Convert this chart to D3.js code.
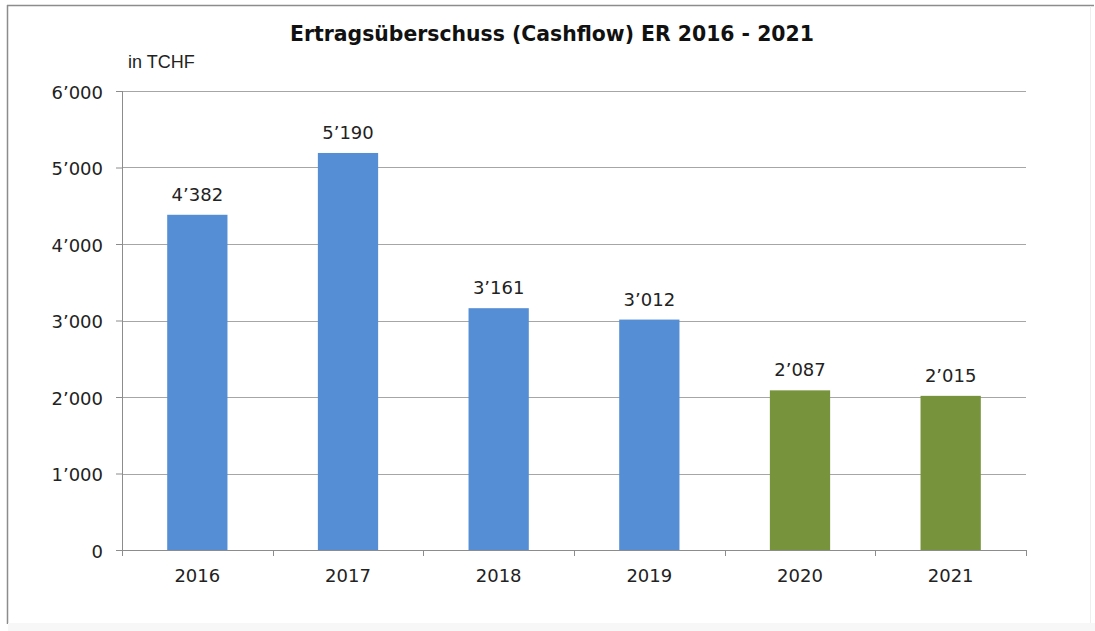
<!DOCTYPE html>
<html>
<head>
<meta charset="utf-8">
<script src="https://cdn.jsdelivr.net/npm/d3@7"></script>
<style>
  body { margin: 0; background: #fff; }
  svg { display: block; }
</style>
</head>
<body>
<svg width="1095" height="631"></svg>
<script>
var years = ["2016", "2017", "2018", "2019", "2020", "2021"];
var values = [4382, 5190, 3161, 3012, 2087, 2015];
var barColors = ["#558ed5", "#558ed5", "#558ed5", "#558ed5", "#77933c", "#77933c"];
var yTicks = [0, 1000, 2000, 3000, 4000, 5000, 6000];

var svg = d3.select("svg"),
    margin = {top: 91, right: 69, bottom: 81, left: 122},
    width = 1095 - margin.left - margin.right,
    height = 631 - margin.top - margin.bottom;

var font = "DejaVu Sans, Verdana, sans-serif";

// frame
svg.append("line").attr("x1", 7.5).attr("x2", 7.5).attr("y1", 5).attr("y2", 624)
    .attr("stroke", "#8c8c8c").attr("stroke-width", 1.5);
svg.append("line").attr("x1", 7).attr("x2", 1094).attr("y1", 5.5).attr("y2", 5.5)
    .attr("stroke", "#8c8c8c").attr("stroke-width", 1.5);
svg.append("line").attr("x1", 1090.5).attr("x2", 1090.5).attr("y1", 6).attr("y2", 624)
    .attr("stroke", "#eeeeee");
svg.append("rect").attr("x", 8).attr("y", 623).attr("width", 1087).attr("height", 8)
    .attr("fill", "#f7f7f7");

var fmt = function(v) {
  return v >= 1000 ? Math.floor(v / 1000) + "\u2019" + d3.format("03d")(v % 1000) : String(v);
};

var x = d3.scaleBand().domain(years).range([0, width]).paddingInner(0.6).paddingOuter(0.3);
var xEdge = d3.scaleLinear().domain([0, years.length]).range([0, width]);
var y = d3.scaleLinear().domain([0, 6000]).range([height, 0]);

var g = svg.append("g")
    .attr("transform", "translate(" + margin.left + "," + margin.top + ")");

// gridlines
g.selectAll(".grid")
  .data(yTicks.slice(1))
  .enter().append("line")
    .attr("x1", 0).attr("x2", width)
    .attr("y1", function(d) { return Math.round(y(d)) + 0.5; })
    .attr("y2", function(d) { return Math.round(y(d)) + 0.5; })
    .attr("stroke", "#a6a6a6");

// bars
g.selectAll(".bar")
  .data(values)
  .enter().append("rect")
    .attr("x", function(d, i) { return x(years[i]); })
    .attr("y", function(d) { return y(d); })
    .attr("width", x.bandwidth())
    .attr("height", function(d) { return height - y(d); })
    .attr("fill", function(d, i) { return barColors[i]; });

// value labels
g.selectAll(".val")
  .data(values)
  .enter().append("text")
    .attr("x", function(d, i) { return x(years[i]) + x.bandwidth() / 2; })
    .attr("y", function(d) { return y(d) - 14; })
    .attr("text-anchor", "middle")
    .style("font-family", font)
    .style("font-size", "18px")
    .attr("fill", "#222")
    .text(function(d) { return fmt(d); });

// y axis
var yAxis = g.append("g")
    .call(d3.axisLeft(y).tickValues(yTicks).tickFormat(fmt).tickSize(6).tickPadding(13));
yAxis.select(".domain").attr("stroke", "#8c8c8c").attr("d", "M0.5," + height + "V0");
yAxis.selectAll(".tick line").attr("stroke", "#8c8c8c");
yAxis.selectAll("text")
    .attr("dy", "0.4em")
    .style("font-family", font)
    .style("font-size", "18px")
    .attr("fill", "#222");

// x axis
var xAxis = g.append("g")
    .attr("transform", "translate(0," + height + ")");
xAxis.append("line").attr("x1", 0).attr("x2", width).attr("y1", 0.5).attr("y2", 0.5)
    .attr("stroke", "#8c8c8c");
xAxis.selectAll(".xt")
  .data(d3.range(years.length + 1))
  .enter().append("line")
    .attr("x1", function(d) { return Math.round(xEdge(d)) + 0.5; })
    .attr("x2", function(d) { return Math.round(xEdge(d)) + 0.5; })
    .attr("y1", 0).attr("y2", 6)
    .attr("stroke", "#8c8c8c");
xAxis.selectAll(".xl")
  .data(years)
  .enter().append("text")
    .attr("x", function(d) { return x(d) + x.bandwidth() / 2; })
    .attr("y", 32)
    .attr("text-anchor", "middle")
    .style("font-family", font)
    .style("font-size", "18px")
    .attr("fill", "#222")
    .text(function(d) { return d; });

// title
svg.append("text")
    .attr("x", 552).attr("y", 41)
    .attr("text-anchor", "middle")
    .style("font-family", font)
    .style("font-size", "20.4px")
    .style("font-weight", "bold")
    .attr("fill", "#111")
    .text("Ertragsüberschuss (Cashflow) ER 2016 - 2021");

svg.append("text")
    .attr("x", 128).attr("y", 68)
    .style("font-family", "Liberation Sans, Arial, sans-serif")
    .style("font-size", "18px")
    .attr("fill", "#222")
    .text("in TCHF");
</script>
</body>
</html>
